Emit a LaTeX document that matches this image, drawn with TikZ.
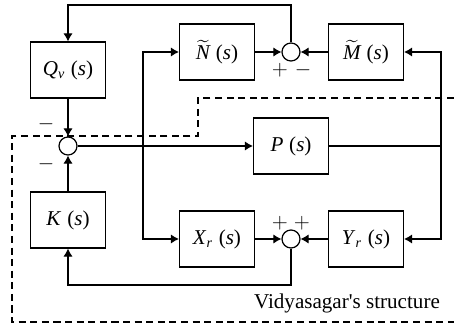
\documentclass[tikz,border=0pt]{standalone}
\usepackage{amsmath}
\usepackage{fontspec}
\setmainfont{Liberation Serif}
\usepackage{tikz}
\usetikzlibrary{arrows.meta,positioning,calc}
\newcommand{\ofs}{\;(\textit{s})}

\begin{document}
\begin{tikzpicture}[
    line width=0.7pt,
    blk/.style={draw, minimum width=1.5cm, minimum height=1.12cm, inner sep=0pt, font=\large},
    sum/.style={draw, circle, minimum size=0.36cm, inner sep=0pt},
    arr/.style={-{Latex[length=4.6pt,width=5.4pt]}},
    sgn/.style={font=\large, inner sep=0pt},
    dsh/.style={dashed, dash pattern=on 4pt off 2.6pt, line width=0.6pt},
  ]
  \useasboundingbox (0,0) rectangle (9.08,-6.5);
  % Blocks
  \node[blk] (qv) at (1.36,-1.40) {\textit{Q}$_{\textit{v}}$\ofs};
  \node[blk] (nt) at (4.34,-1.04) {$\widetilde{\textit{N}}$\ofs};
  \node[blk] (mt) at (7.32,-1.04) {$\widetilde{\textit{M}}$\ofs};
  \node[blk] (pp) at (5.82,-2.92) {\textit{P}\ofs};
  \node[blk] (kk) at (1.36,-4.40) {\textit{K}\ofs};
  \node[blk] (xr) at (4.34,-4.78) {\textit{X}$_{\textit{r}}$\ofs};
  \node[blk] (yr) at (7.32,-4.78) {\textit{Y}$_{\textit{r}}$\ofs};
  % Summing junctions
  \node[sum] (s0) at (1.36,-2.92) {};
  \node[sum] (s1) at (5.82,-1.04) {};
  \node[sum] (s2) at (5.82,-4.78) {};
  % Signs
  \node[sgn] (s0a) at (0.92,-2.48) {$-$};
  \node[sgn] (s0b) at (0.92,-3.28) {$-$};
  \node[sgn] (s1a) at (5.60,-1.40) {$+$};
  \node[sgn] (s1b) at (6.06,-1.40) {$-$};
  \node[sgn] (s2a) at (5.60,-4.46) {$+$};
  \node[sgn] (s2b) at (6.04,-4.46) {$+$};
  % Corner points
  \coordinate (ttop) at (1.36,-0.10);
  \coordinate (br) at (2.86,-2.92);
  \coordinate (po) at (8.82,-2.92);
  \coordinate (bot) at (1.36,-5.70);
  % Connections
  \draw[arr] (s1.north) |- (ttop) -- (qv.north);
  \draw[arr] (qv.south) -- (s0.north);
  \draw[arr] (kk.north) -- (s0.south);
  \draw[arr] (s0.east) -- (pp.west);
  \draw[arr] (br) |- (nt.west);
  \draw[arr] (br) |- (xr.west);
  \draw[arr] (nt.east) -- (s1.west);
  \draw[arr] (mt.west) -- (s1.east);
  \draw (pp.east) -- (po);
  \draw[arr] (po) |- (mt.east);
  \draw[arr] (po) |- (yr.east);
  \draw[arr] (xr.east) -- (s2.west);
  \draw[arr] (yr.west) -- (s2.east);
  \draw[arr] (s2.south) |- (bot) -- (kk.south);
  % Dashed region
  \draw[dsh] (9.08,-1.96) -- (3.96,-1.96) -- (3.96,-2.72) -- (0.24,-2.72)
    -- (0.24,-6.44) -- (9.08,-6.44);
  \node[font=\large] (vs) at (6.94,-6.06) {Vidyasagar\textquotesingle s structure};
\end{tikzpicture}
\end{document}
